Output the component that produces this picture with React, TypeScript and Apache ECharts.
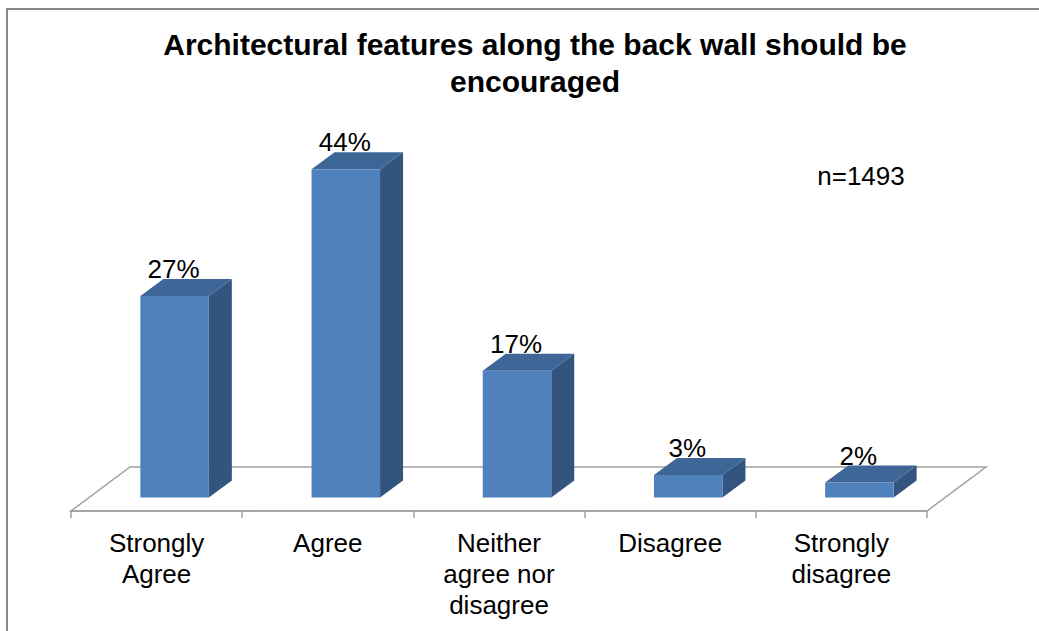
import React, { useEffect, useRef } from "react";
import * as echarts from "echarts";

const categories = [
  "Strongly\nAgree",
  "Agree",
  "Neither\nagree nor\ndisagree",
  "Disagree",
  "Strongly\ndisagree",
];
const values = [27, 44, 17, 3, 2];
const valueLabels = ["27%", "44%", "17%", "3%", "2%"];
const titleText = "Architectural features along the back wall should be\nencouraged";
const noteText = "n=1493";

const FONT = '"Liberation Sans", Arial, sans-serif';
const FRONT = "#4F81BD";
const TOP = "#3E6797";
const SIDE = "#32547F";
const FLOOR = "#A0A0A0";

// 3D geometry (pixels)
const FLOOR_DX = 59;
const FLOOR_DY = -44;
const BAR_DX = 23;
const BAR_DY = -17;
const BAR_FRAC = 0.4;

export default function App() {
  const ref = useRef<HTMLDivElement>(null);
  useEffect(() => {
    if (!ref.current) return;
    const chart = echarts.init(ref.current, undefined, { renderer: "svg" });
    const midX = (FLOOR_DX - BAR_DX) / 2;
    const midY = (FLOOR_DY - BAR_DY) / 2;
    const option: any = {
      animation: false,
      backgroundColor: "#ffffff",
      title: {
        text: titleText,
        left: 530,
        top: 21,
        textAlign: "center",
        textStyle: {
          fontFamily: FONT,
          fontSize: 30,
          fontWeight: "bold",
          color: "#000",
          lineHeight: 37,
        },
      },
      graphic: [
        {
          type: "rect",
          shape: { x: 7, y: 9, width: 1200, height: 800 },
          style: { fill: "none", stroke: "#868686", lineWidth: 2 },
          silent: true,
          z: 0,
        },
        {
          type: "text",
          x: 861,
          y: 176,
          style: {
            text: noteText,
            fontFamily: FONT,
            fontSize: 26,
            fill: "#000",
            textAlign: "center",
            textVerticalAlign: "middle",
          },
        },
      ],
      grid: { left: 71, right: 112, top: 138, bottom: 120 },
      xAxis: {
        type: "category",
        data: categories,
        axisLine: { show: true, lineStyle: { color: FLOOR, width: 1.5 } },
        axisTick: { show: true, length: 7, lineStyle: { color: FLOOR, width: 1.5 } },
        axisLabel: {
          fontFamily: FONT,
          fontSize: 26,
          color: "#000",
          lineHeight: 31,
          margin: 16,
          interval: 0,
        },
        splitLine: { show: false },
      },
      yAxis: {
        type: "value",
        min: 0,
        max: 50,
        show: false,
      },
      series: [
        {
          type: "custom",
          name: "floor",
          data: [[0, 0]],
          clip: false,
          z: 1,
          silent: true,
          renderItem: (params: any) => {
            const cs = params.coordSys;
            const fx = cs.x;
            const fy = cs.y + cs.height;
            const fw = cs.width;
            return {
              type: "polygon",
              shape: {
                points: [
                  [fx, fy],
                  [fx + fw, fy],
                  [fx + fw + FLOOR_DX, fy + FLOOR_DY],
                  [fx + FLOOR_DX, fy + FLOOR_DY],
                ],
              },
              style: { fill: "none", stroke: FLOOR, lineWidth: 1.5 },
            };
          },
        },
        {
          type: "custom",
          name: "bars",
          data: values.map((v, i) => [i, v]),
          clip: false,
          z: 2,
          renderItem: (params: any, api: any) => {
            const idx = api.value(0);
            const v = api.value(1);
            const base = api.coord([idx, 0]);
            const top = api.coord([idx, v]);
            const band = api.size([1, 0])[0];
            const w = band * BAR_FRAC;
            const x0 = base[0] - w / 2 + midX;
            const x1 = x0 + w;
            const yb = base[1] + midY;
            const yt = top[1] + midY;
            return {
              type: "group",
              children: [
                {
                  type: "polygon",
                  shape: {
                    points: [
                      [x1, yt],
                      [x1 + BAR_DX, yt + BAR_DY],
                      [x1 + BAR_DX, yb + BAR_DY],
                      [x1, yb],
                    ],
                  },
                  style: { fill: SIDE },
                },
                {
                  type: "polygon",
                  shape: {
                    points: [
                      [x0, yt],
                      [x1, yt],
                      [x1 + BAR_DX, yt + BAR_DY],
                      [x0 + BAR_DX, yt + BAR_DY],
                    ],
                  },
                  style: { fill: TOP },
                },
                {
                  type: "rect",
                  shape: { x: x0, y: yt, width: w, height: yb - yt },
                  style: { fill: FRONT },
                },
                {
                  type: "text",
                  x: x0 + w / 2 - 1,
                  y: yt + BAR_DY - 10,
                  z2: 10,
                  style: {
                    text: valueLabels[params.dataIndex],
                    fontFamily: FONT,
                    fontSize: 26,
                    fill: "#000",
                    textAlign: "center",
                    textVerticalAlign: "middle",
                  },
                },
              ],
            };
          },
        },
      ],
    };
    chart.setOption(option);
    return () => chart.dispose();
  }, []);
  return (
    <div
      ref={ref}
      style={{ position: "fixed", left: 0, top: 0, width: 1039, height: 631 }}
    />
  );
}
